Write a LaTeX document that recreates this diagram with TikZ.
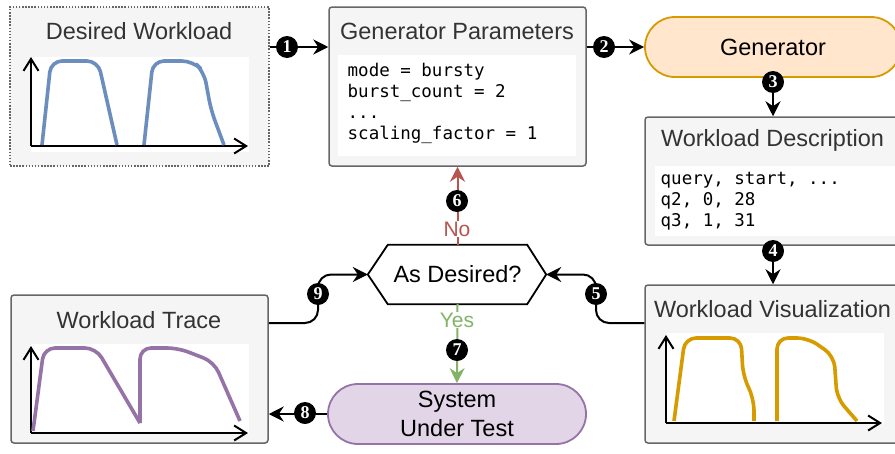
\documentclass[tikz,border=0pt]{standalone}
\usepackage{fontspec}
\setmainfont{Liberation Sans}
\newfontfamily\codefont{DejaVu Sans Mono}
\newfontfamily\badgefont{Liberation Serif}
\usetikzlibrary{arrows.meta}
\definecolor{boxfill}{HTML}{F5F5F5}
\definecolor{boxline}{HTML}{666666}
\definecolor{titlegray}{HTML}{333333}
\definecolor{genfill}{HTML}{FFE6CC}
\definecolor{genline}{HTML}{D79B00}
\definecolor{sutfill}{HTML}{E1D5E7}
\definecolor{sutline}{HTML}{9673A6}
\definecolor{curveblue}{HTML}{6C8EBF}
\definecolor{curveorange}{HTML}{D79B00}
\definecolor{curvepurple}{HTML}{9673A6}
\definecolor{nored}{HTML}{B85450}
\definecolor{yesgreen}{HTML}{82B366}
\begin{document}
\begin{tikzpicture}[x=1pt,y=-1pt,
  panel/.style={draw=boxline, fill=boxfill, line width=1.5pt, rounded corners=3pt, inner sep=0pt},
  dotpanel/.style={draw=boxline, fill=boxfill, line width=1.5pt, dash pattern=on 1.5pt off 1.6pt, inner sep=0pt},
  pill/.style={line width=1.8pt, rounded corners=30pt, inner sep=0pt, align=center, font=\fontsize{23.5}{29.7}\selectfont},
  titletext/.style={text=titlegray, inner sep=0pt, font=\fontsize{23.5}{28}\selectfont},
  codeline/.style={anchor=base west, inner sep=0pt, font=\codefont\fontsize{17.5}{21}\selectfont},
  whitearea/.style={fill=white, draw=none, inner sep=0pt},
  badge/.style={circle, fill=black, minimum size=22pt, inner sep=0pt, text=white, font=\badgefont\bfseries\fontsize{18}{18}\selectfont},
  conn/.style={line width=2pt, -{Stealth[length=15pt,width=15pt,inset=5pt]}},
  axis/.style={line width=2pt, -{Straight Barb[length=12pt,width=15pt]}},
  curve/.style={line width=3.6pt, rounded corners=11pt, line join=round},
  lbl/.style={inner sep=1pt, fill=white, font=\fontsize{21}{24}\selectfont}
]
\path[use as bounding box] (0,0) rectangle (895,453);
\clip (0,0) rectangle (895,453);
\fill[white] (0,0) rectangle (895,453);

% ---------- boxes ----------
\node[dotpanel, minimum width=259pt, minimum height=159pt] (dw) at (139.5,86.5) {};
\node[titletext] (dwT) at (139,31.5) {Desired Workload};
\node[whitearea, minimum width=218pt, minimum height=95pt] (dwP) at (140,104.5) {};

\node[panel, minimum width=257pt, minimum height=159pt] (gp) at (457.5,86.5) {};
\node[titletext] (gpT) at (457,31.5) {Generator Parameters};
\node[whitearea, minimum width=238pt, minimum height=101pt] (gpC) at (457,105.5) {};
\node[codeline] (gp1) at (347.5,76) {mode = bursty};
\node[codeline] (gp2) at (347.5,97) {burst\_count = 2};
\node[codeline] (gp3) at (347.5,118) {...};
\node[codeline] (gp4) at (347.5,139) {scaling\_factor = 1};

\node[pill, draw=genline, fill=genfill, minimum width=256pt, minimum height=60pt] (gen) at (773,47) {Generator};

\node[panel, minimum width=256pt, minimum height=128pt] (wd) at (773,181) {};
\node[titletext] (wdT) at (772.5,140.5) {Workload Description};
\node[whitearea, minimum width=240pt, minimum height=70pt] (wdC) at (775,201) {};
\node[codeline] (wd1) at (660.5,184) {query, start, ...};
\node[codeline] (wd2) at (660.5,205) {q2, 0, 28};
\node[codeline] (wd3) at (660.5,226) {q3, 1, 31};

\node[panel, minimum width=256pt, minimum height=158pt] (wv) at (773,364) {};
\node[titletext] (wvT) at (772.5,309) {Workload Visualization};
\node[whitearea, minimum width=217pt, minimum height=91pt] (wvP) at (775.5,378.5) {};

\node[panel, minimum width=257pt, minimum height=148pt] (wt) at (139.5,369) {};
\node[titletext] (wtT) at (139,320) {Workload Trace};
\node[whitearea, minimum width=218pt, minimum height=90pt] (wtP) at (140,389) {};

\node[pill, draw=sutline, fill=sutfill, minimum width=258pt, minimum height=60pt] (sut) at (457,414) {System\\Under Test};

% hexagon
\node[inner sep=0pt, minimum width=139pt, minimum height=59pt, font=\fontsize{23.5}{28}\selectfont] (hex) at (457.5,274.5) {As Desired?};
\coordinate (hexL) at ([xshift=-20pt]hex.west);
\coordinate (hexR) at ([xshift=19pt]hex.east);
\draw[line width=1.8pt, line join=miter] (hex.north west) -- (hex.north east) -- (hexR) -- (hex.south east) -- (hex.south west) -- (hexL) -- cycle;

% ---------- plots ----------
% desired workload
\draw[axis] (31,146) -- (31,57);
\draw[axis] (31,146) -- (248,146);
\draw[curve, draw=curveblue] (42,145) -- (51,61) -- (98,61) -- (117,145);
\draw[curve, draw=curveblue] (144,145) -- (153,61) -- (193,61) -- (204,72) -- (211,110) -- (224,145);

% workload visualization
\draw[axis] (666,423) -- (666,335);
\draw[axis] (666,423) -- (882,423);
\draw[curve, draw=curveorange] (674,421) -- (685,338) -- (741,338) -- (743,375) -- (754,400) -- (754,421);
\draw[curve, draw=curveorange] (777,421) -- (777,338) -- (808,338) -- (834,356) -- (837,398) -- (857,421);

% workload trace
\draw[axis] (31,433) -- (31,346);
\draw[axis] (31,433) -- (248,433);
\draw[curve, draw=curvepurple] (33,431) -- (44,348) -- (96,348) -- (140,423);
\draw[curve, draw=curvepurple] (140,423) -- (140,348) -- (178,348) -- (214,362) -- (240,421);

% ---------- connectors ----------
\draw[conn] (dw.east |- gen.west) -- (gp.west |- gen.west);
\draw[conn] (gp.east |- gen.west) -- (gen.west);
\draw[conn] (gen.south) -- (wd.north);
\draw[conn] (wd.south) -- (wv.north);
\coordinate (lev) at (0,323);
\draw[conn, rounded corners=13pt] (wv.west |- lev) -- (596,323) -- (596,274.5) -- (hexR);
\draw[conn, rounded corners=13pt] (wt.east |- lev) -- (318,323) -- (318,274.5) -- (hexL);
\draw[conn, draw=nored, color=nored] (hex.north) -- (gp.south);
\draw[conn, draw=yesgreen, color=yesgreen] (hex.south) -- (sut.north);
\draw[conn] (sut.west) -- (wt.east |- sut.west);

\node[lbl, text=nored] (no) at (457,229) {No};
\node[lbl, text=yesgreen] (yes) at (457,320) {Yes};

% ---------- badges ----------
\node[badge] (b1) at (287,47) {1};
\node[badge] (b2) at (604,47) {2};
\node[badge] (b3) at (773,82) {3};
\node[badge] (b4) at (773,251) {4};
\node[badge] (b5) at (596,294) {5};
\node[badge] (b6) at (457,201) {6};
\node[badge] (b7) at (457,350) {7};
\node[badge] (b8) at (305,413) {8};
\node[badge] (b9) at (318,294) {9};
\end{tikzpicture}
\end{document}
